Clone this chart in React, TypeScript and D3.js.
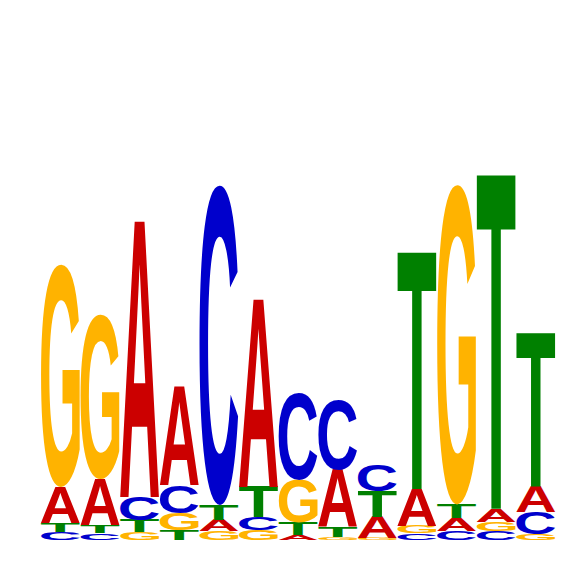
import { useMemo } from 'react';
import * as d3 from 'd3';

// letter heights in bits, one value per position (1..13)
const positions = ['1', '2', '3', '4', '5', '6', '7', '8', '9', '10', '11', '12', '13'];
const bases = ['A', 'C', 'G', 'T'];
const bitsA = [0.144, 0.184, 1.1, 0.392, 0.044, 0.748, 0.02, 0.228, 0.086, 0.148, 0.052, 0.052, 0.1];
const bitsC = [0.032, 0.028, 0.092, 0.112, 1.276, 0.052, 0.348, 0.276, 0.102, 0.026, 0.036, 0.036, 0.088];
const bitsG = [0.888, 0.656, 0.032, 0.068, 0.036, 0.04, 0.172, 0.012, 0.008, 0.03, 1.276, 0.037, 0.024];
const bitsT = [0.036, 0.032, 0.048, 0.04, 0.06, 0.12, 0.048, 0.04, 0.1, 0.944, 0.054, 1.332, 0.612];

const baseColors: Record<string, string> = {
  A: '#CC0000',
  C: '#0000CC',
  G: '#FFB300',
  T: '#008000',
};

const W = 566;
const H = 566;
const FONT = '"Liberation Sans", Arial, Helvetica, sans-serif';
const FS = 100;

// ink box of each glyph (at FS): draw it big on a canvas and scan the pixels
function measureGlyphs() {
  const out: Record<string, { l: number; r: number; a: number; d: number }> = {};
  const big = 400;
  const size = 800;
  const ox = 200;
  const oy = 600;
  const canvas = document.createElement('canvas');
  canvas.width = size;
  canvas.height = size;
  const ctx = canvas.getContext('2d');
  const k = FS / big;
  bases.forEach(b => {
    out[b] = { l: 0, r: 72, a: 72, d: 0 };
    if (!ctx) return;
    ctx.clearRect(0, 0, size, size);
    ctx.font = `bold ${big}px ${FONT}`;
    ctx.fillStyle = '#000';
    ctx.fillText(b, ox, oy);
    const px = ctx.getImageData(0, 0, size, size).data;
    let minX = size, maxX = -1, minY = size, maxY = -1;
    for (let yy = 0; yy < size; yy++) {
      for (let xx = 0; xx < size; xx++) {
        if (px[(yy * size + xx) * 4 + 3] > 127) {
          if (xx < minX) minX = xx;
          if (xx > maxX) maxX = xx;
          if (yy < minY) minY = yy;
          if (yy > maxY) maxY = yy;
        }
      }
    }
    if (maxX < 0) return;
    out[b] = {
      l: (ox - minX) * k,
      r: (maxX + 1 - ox) * k,
      a: (oy - minY) * k,
      d: (maxY + 1 - oy) * k,
    };
  });
  return out;
}

export default function App() {
  const glyphs = useMemo(measureGlyphs, []);

  const x = d3.scaleBand<string>()
    .domain(positions)
    .range([41, 555])
    .paddingInner(0.025)
    .paddingOuter(0);

  const y = d3.scaleLinear().domain([0, 2]).range([540, 40]);

  const series: Record<string, number[]> = { A: bitsA, C: bitsC, G: bitsG, T: bitsT };

  const letters: { key: string; base: string; x0: number; w: number; y0: number; y1: number }[] = [];
  positions.forEach((p, i) => {
    const stack = bases
      .map(b => ({ base: b, v: series[b][i] }))
      .sort((a, b) => a.v - b.v);
    let acc = 0;
    stack.forEach(s => {
      const bottom = y(acc);
      acc += s.v;
      const top = y(acc);
      letters.push({ key: `${p}-${s.base}`, base: s.base, x0: x(p) ?? 0, w: x.bandwidth(), y0: top, y1: bottom });
    });
  });

  return (
    <svg
      width={W}
      height={H}
      style={{ position: 'absolute', left: 0, top: 0, background: '#fff' }}
    >
      {letters.map(d => {
        const g = glyphs[d.base];
        const h = d.y1 - d.y0;
        if (h <= 0.2) return null;
        const sx = d.w / (g.l + g.r);
        const sy = h / (g.a + g.d);
        const tx = d.x0 + g.l * sx;
        const ty = d.y1 - g.d * sy;
        return (
          <text
            key={d.key}
            transform={`translate(${tx},${ty}) scale(${sx},${sy})`}
            fontFamily={FONT}
            fontWeight="bold"
            fontSize={FS}
            fill={baseColors[d.base]}
          >
            {d.base}
          </text>
        );
      })}
    </svg>
  );
}
